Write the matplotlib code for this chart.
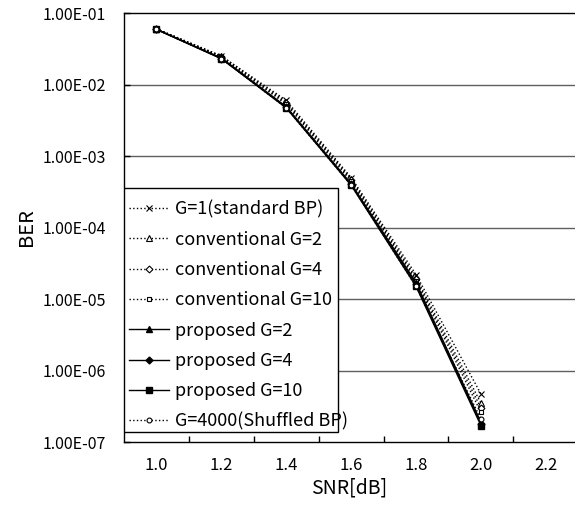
import numpy as np
import matplotlib
matplotlib.use('Agg')
import matplotlib.pyplot as plt
from matplotlib.patches import Rectangle
from matplotlib.ticker import FixedLocator, NullFormatter

plt.rcParams['font.family'] = ['Noto Sans CJK JP', 'DejaVu Sans']

snr = ['1.0', '1.2', '1.4', '1.6', '1.8', '2.0', '2.2']

ber_g1 = [6.0e-2, 2.5e-2, 6.0e-3, 5.0e-4, 2.2e-5, 4.7e-7]
ber_conv2 = [6.0e-2, 2.5e-2, 5.7e-3, 4.8e-4, 2.0e-5, 3.5e-7]
ber_conv4 = [6.0e-2, 2.45e-2, 5.5e-3, 4.6e-4, 1.9e-5, 3.0e-7]
ber_conv10 = [6.0e-2, 2.4e-2, 5.3e-3, 4.4e-4, 1.8e-5, 2.6e-7]
ber_prop2 = [5.9e-2, 2.35e-2, 4.9e-3, 4.1e-4, 1.7e-5, 1.9e-7]
ber_prop4 = [5.9e-2, 2.3e-2, 4.8e-3, 4.0e-4, 1.6e-5, 1.8e-7]
ber_prop10 = [5.9e-2, 2.3e-2, 4.7e-3, 3.9e-4, 1.5e-5, 1.7e-7]
ber_g4000 = [5.9e-2, 2.3e-2, 4.7e-3, 3.9e-4, 1.5e-5, 2.1e-7]

labels = ['G=1(standard BP)', 'conventional G=2', 'conventional G=4',
          'conventional G=10', 'proposed G=2', 'proposed G=4',
          'proposed G=10', 'G=4000(Shuffled BP)']

fig = plt.figure(figsize=(5.75, 5.09), dpi=100)
ax = fig.add_axes([124 / 575, 1 - 442 / 509, 1 - 124 / 575, (442 - 13) / 509])

x = np.arange(len(ber_g1))

dot = dict(color='k', ls=':', lw=1.0)
solid = dict(color='k', ls='-', lw=1.0)
ax.plot(x, ber_g1, marker='x', ms=5, mew=0.8, label=labels[0], **dot)
ax.plot(x, ber_conv2, marker='^', ms=4, mfc='white', mew=0.8, label=labels[1], **dot)
ax.plot(x, ber_conv4, marker='D', ms=3.5, mfc='white', mew=0.8, label=labels[2], **dot)
ax.plot(x, ber_conv10, marker='s', ms=3.5, mfc='white', mew=0.8, label=labels[3], **dot)
ax.plot(x, ber_prop2, marker='^', ms=4.5, label=labels[4], **solid)
ax.plot(x, ber_prop4, marker='D', ms=3.5, label=labels[5], **solid)
ax.plot(x, ber_prop10, marker='s', ms=4.5, label=labels[6], **solid)
ax.plot(x, ber_g4000, marker='o', ms=3.5, mfc='white', mew=0.8, label=labels[7], **dot)

ax.set_yscale('log')
ax.set_ylim(1e-7, 1e-1)
ax.set_xlim(-0.5, 6.45)

decades = [1e-7, 1e-6, 1e-5, 1e-4, 1e-3, 1e-2, 1e-1]
ax.yaxis.set_major_locator(FixedLocator(decades))
ax.yaxis.set_minor_locator(FixedLocator([]))
ax.set_yticklabels(['%.2E' % v for v in decades])
for v in decades[1:-1]:
    ax.axhline(v, color='#606060', lw=1.0, zorder=0)

ax.xaxis.set_major_locator(FixedLocator(np.arange(0.5, 6.5, 1.0)))
ax.xaxis.set_major_formatter(NullFormatter())
ax.xaxis.set_minor_locator(FixedLocator(np.arange(len(snr))))
ax.set_xticklabels(snr, minor=True)

ax.tick_params(axis='x', which='major', direction='in', length=4, width=1)
ax.tick_params(axis='x', which='minor', length=0, pad=11, labelsize=12)
ax.tick_params(axis='y', which='major', direction='in', length=4, width=1,
               pad=13, labelsize=11.5)

ax.spines['right'].set_visible(False)
for s in ['top', 'left', 'bottom']:
    ax.spines[s].set_linewidth(1.0)

ax.set_xlabel('SNR[dB]', fontsize=14, labelpad=2)
ax.set_ylabel('BER', fontsize=14.5, labelpad=4)

# legend box is narrower than the last label, as in the original
box = Rectangle((0.0, 0.0233), 0.4745, 0.592 - 0.0233, transform=ax.transAxes,
                facecolor='white', edgecolor='k', lw=1.0, zorder=4)
ax.add_patch(box)
leg = ax.legend(loc='upper left', bbox_to_anchor=(0.0, 0.576), borderaxespad=0,
                fontsize=13, handlelength=2.2, handletextpad=0.3,
                labelspacing=0.68, frameon=False, borderpad=0.3)
leg.set_zorder(5)

fig.savefig('out.png', dpi=100)
